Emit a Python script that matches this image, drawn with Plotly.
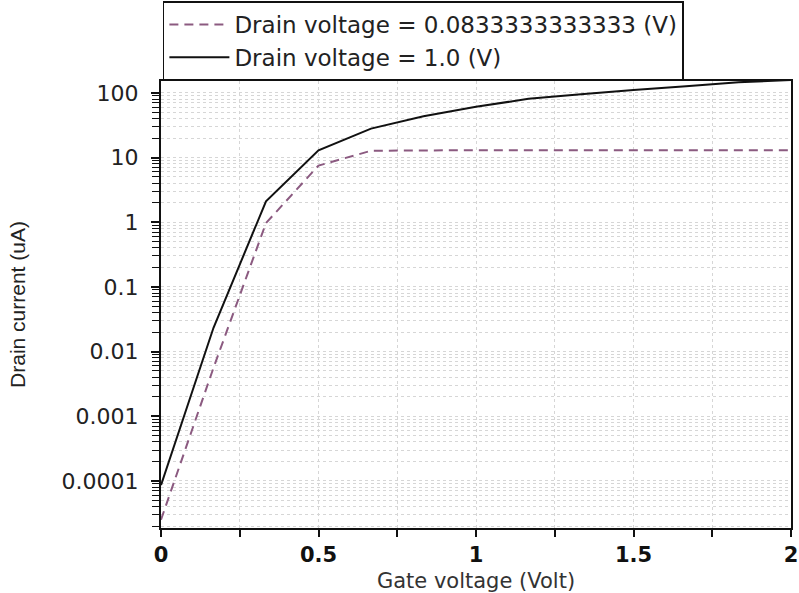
import plotly.graph_objects as go

# Gate sweep (V) and drain current (uA) for two drain biases
gate_voltage = [0.0, 1/6, 1/3, 0.5, 2/3, 5/6, 1.0, 7/6, 4/3, 1.5, 5/3, 11/6, 2.0]
current_vd_low = [2.5e-5, 0.0056, 0.97, 7.5, 12.7, 13.0, 13.0, 13.0, 13.0, 13.0, 13.0, 13.0, 13.0]
current_vd_high = [8.6e-5, 0.0233, 2.1, 12.9, 28.0, 43.5, 61.0, 80.7, 95.0, 111.0, 126.0, 146.0, 158.0]

series_names = ["Drain voltage = 0.0833333333333 (V)", "Drain voltage = 1.0 (V)"]

y_tick_vals = [1e-4, 1e-3, 1e-2, 1e-1, 1, 10, 100]
y_tick_text = ["0.0001", "0.001", "0.01", "0.1", "1", "10", "100"]
x_tick_vals = [0, 0.5, 1, 1.5, 2]
x_tick_text = ["0", "0.5", "1", "1.5", "2"]

# minor log ticks 2..9 in each decade shown on the axis
y_minor_vals = [m * 10.0 ** e for e in range(-5, 3) for m in range(2, 10)
                if 10 ** -4.729 <= m * 10.0 ** e <= 10 ** 2.183]

GRID = "#d6d6d6"
FONT = "DejaVu Sans"

fig = go.Figure()
fig.add_trace(go.Scatter(
    x=gate_voltage, y=current_vd_low, mode="lines", name=series_names[0],
    line=dict(color="#8b5a80", width=2, dash="9px,6px"),
))
fig.add_trace(go.Scatter(
    x=gate_voltage, y=current_vd_high, mode="lines", name=series_names[1],
    line=dict(color="#111111", width=2),
))

fig.update_layout(
    width=799, height=593,
    margin=dict(l=161, r=8, t=81, b=65, autoexpand=False),
    paper_bgcolor="white", plot_bgcolor="white",
    font=dict(family=FONT, color="#222222"),
    showlegend=True,
    legend=dict(
        x=0.003, y=1.178, xanchor="left", yanchor="top",
        bgcolor="white", bordercolor="#111111", borderwidth=1.5,
        font=dict(family=FONT, size=23, color="#222222"),
        itemwidth=60, tracegroupgap=0,
    ),
    xaxis=dict(
        range=[0, 2], tickvals=x_tick_vals, ticktext=x_tick_text,
        ticks="outside", ticklen=7, tickwidth=1.5, tickcolor="#111111",
        ticklabeloverflow="allow", automargin=False,
        showline=True, linecolor="#111111", linewidth=2, mirror=True,
        showgrid=True, gridcolor=GRID, griddash="dot", gridwidth=1,
        minor=dict(dtick=0.25, tick0=0, ticks="outside", ticklen=7, tickwidth=1.5,
                   tickcolor="#111111", showgrid=True, gridcolor=GRID, griddash="dot"),
        tickfont=dict(family=FONT, size=21, color="#111111", weight="bold"),
        title=dict(text="Gate voltage (Volt)", font=dict(family=FONT, size=21, color="#333333"), standoff=8),
        zeroline=False,
    ),
    yaxis=dict(
        type="log", range=[-4.729, 2.183],
        tickvals=y_tick_vals, ticktext=y_tick_text,
        ticks="outside", ticklen=8, tickwidth=1.5, tickcolor="#111111",
        ticklabelstandoff=8, automargin=False,
        showline=True, linecolor="#111111", linewidth=2, mirror=True,
        showgrid=True, gridcolor=GRID, griddash="dot", gridwidth=1,
        minor=dict(tickvals=y_minor_vals, ticks="outside", ticklen=7, tickwidth=1,
                   tickcolor="#111111", showgrid=True, gridcolor=GRID, griddash="dot"),
        tickfont=dict(family=FONT, size=22, color="#222222"),
        title=dict(text="Drain current (uA)",
                   font=dict(family="Liberation Sans Narrow, Liberation Sans", size=21, color="#222222"),
                   standoff=30),
        zeroline=False,
    ),
)

fig.write_html("out.html")
